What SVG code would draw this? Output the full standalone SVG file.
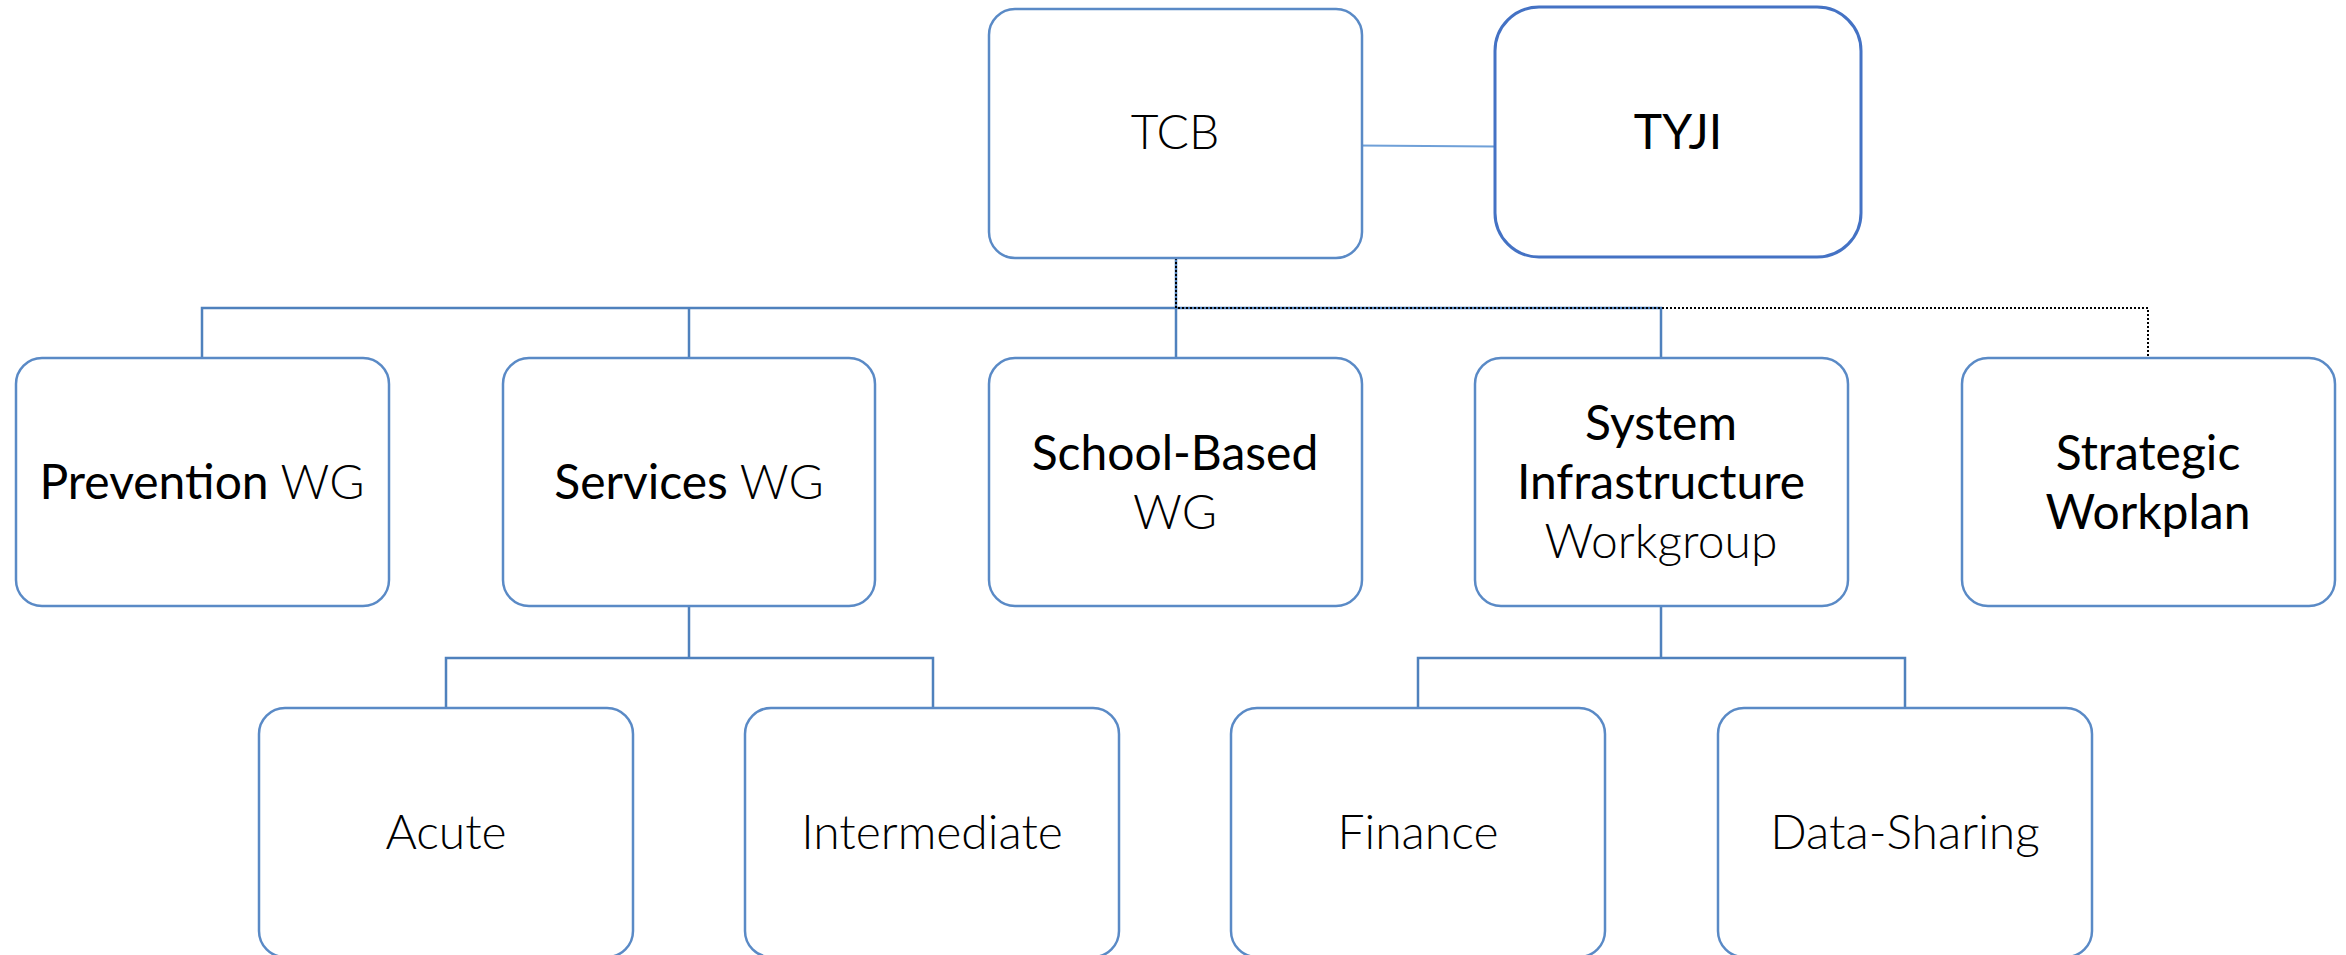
<svg xmlns="http://www.w3.org/2000/svg" width="2346" height="955" viewBox="0 0 2346 955">
<style>
.box{fill:#fff;stroke:#5A8AC6;stroke-width:2.5}
.tyji{fill:#fff;stroke:#4472C4;stroke-width:3}
.conn{fill:none;stroke:#4F81BD;stroke-width:2.5}
.dot{fill:none;stroke:#000;stroke-width:2;stroke-dasharray:2 2}
.t{font-family:Lato,"Open Sans","Liberation Sans",sans-serif;font-size:48px;fill:#000;text-anchor:middle}
.l{font-weight:300}
.r{font-weight:400}
</style>
<rect width="2346" height="955" fill="#fff"/>
<g id="connectors">
<path class="conn" d="M1357 145.5 L1495 146.5" style="stroke:#6FA0D8;stroke-width:2"/>
<path class="conn" d="M1176 258 V358"/>
<path class="conn" d="M202 358 V308 H1661 V358"/>
<path class="conn" d="M689 308 V358"/>
<path class="dot" d="M1176 258 V308 H2148 V357"/>
<path class="conn" d="M689 606 V658 M446 708 V658 H933 V708"/>
<path class="conn" d="M1661 606 V658 M1418 708 V658 H1905 V708"/>
</g>
<g id="tcb"><rect class="box" x="989" y="9" width="373" height="249" rx="26"/><text class="t l" x="1175" y="149">TCB</text></g>
<g id="tyji"><rect class="tyji" x="1495" y="7" width="366" height="250" rx="44"/><text class="t r" x="1678" y="149">TYJI</text></g>
<g id="prevention"><rect class="box" x="16" y="358" width="373" height="248" rx="26"/><text class="t" x="202" y="499"><tspan class="r">Prevention</tspan><tspan class="l"> WG</tspan></text></g>
<g id="services"><rect class="box" x="503" y="358" width="372" height="248" rx="26"/><text class="t" x="689" y="499"><tspan class="r">Services</tspan><tspan class="l"> WG</tspan></text></g>
<g id="school"><rect class="box" x="989" y="358" width="373" height="248" rx="26"/><text class="t r" x="1175" y="470">School-Based</text><text class="t l" x="1175" y="529">WG</text></g>
<g id="system"><rect class="box" x="1475" y="358" width="373" height="248" rx="26"/><text class="t r" x="1661" y="440">System</text><text class="t r" x="1661" y="499">Infrastructure</text><text class="t l" x="1661" y="558">Workgroup</text></g>
<g id="strategic"><rect class="box" x="1962" y="358" width="373" height="248" rx="26"/><text class="t r" x="2148" y="470">Strategic</text><text class="t r" x="2148" y="529">Workplan</text></g>
<g id="acute"><rect class="box" x="259" y="708" width="374" height="249" rx="26"/><text class="t l" x="446" y="849">Acute</text></g>
<g id="intermediate"><rect class="box" x="745" y="708" width="374" height="249" rx="26"/><text class="t l" x="932" y="849">Intermediate</text></g>
<g id="finance"><rect class="box" x="1231" y="708" width="374" height="249" rx="26"/><text class="t l" x="1418" y="849">Finance</text></g>
<g id="datasharing"><rect class="box" x="1718" y="708" width="374" height="249" rx="26"/><text class="t l" x="1905" y="849">Data-Sharing</text></g>
</svg>
